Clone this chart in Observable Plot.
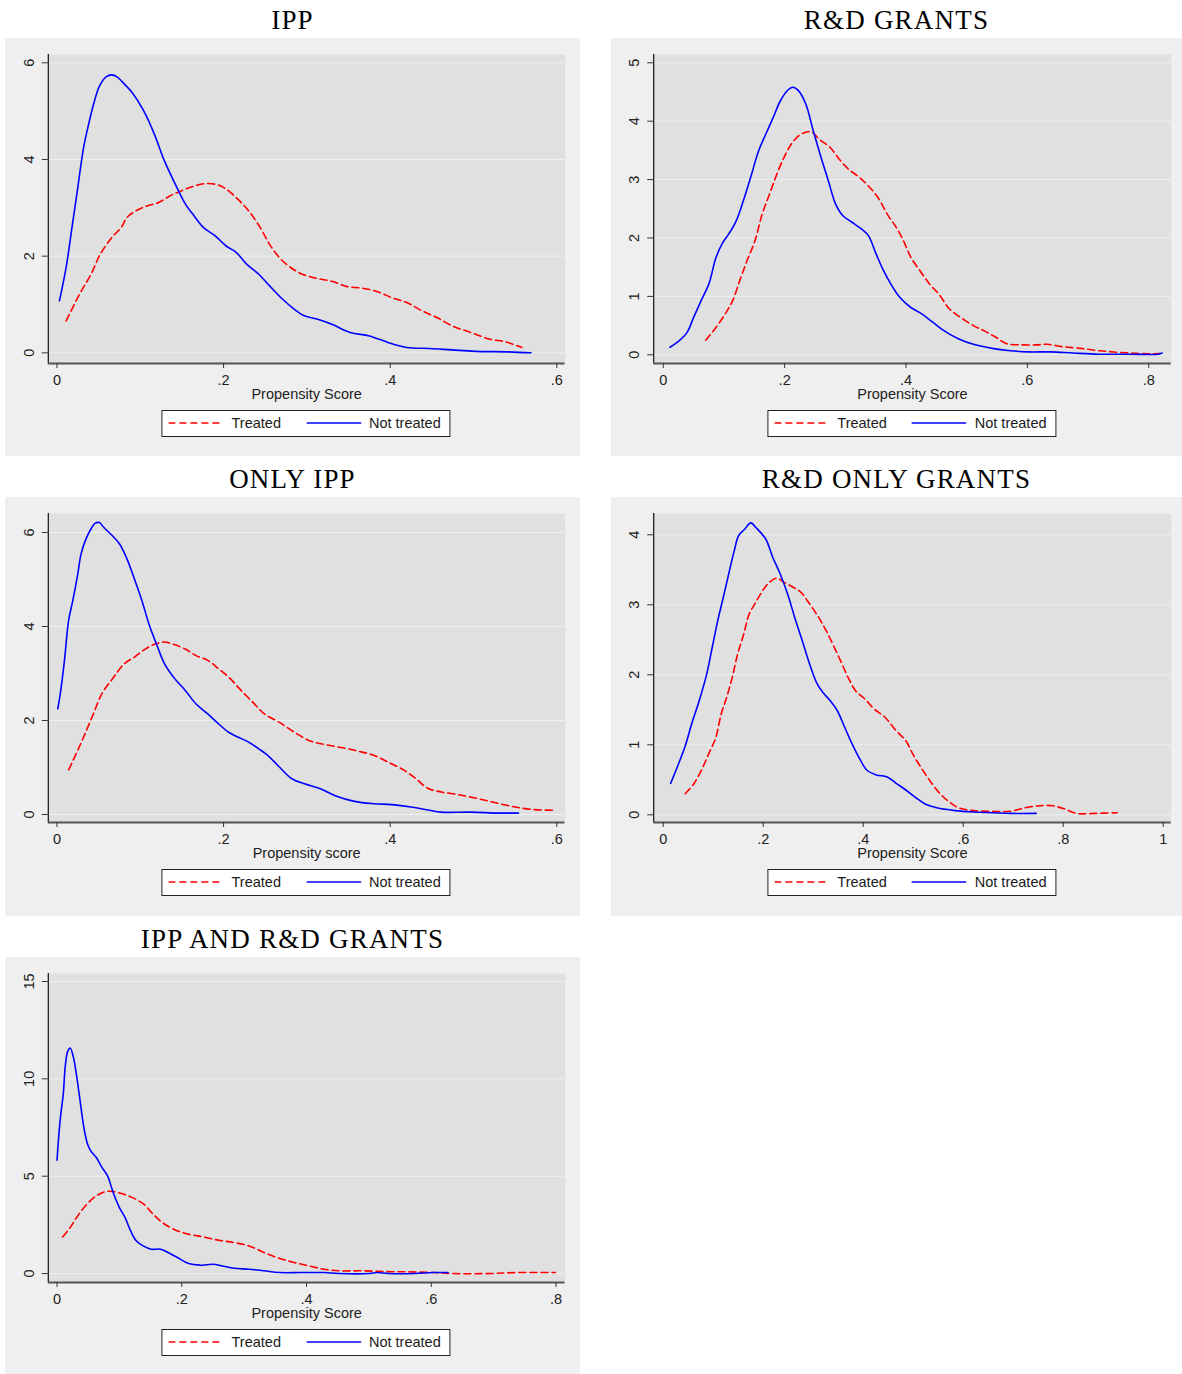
<!DOCTYPE html>
<html><head><meta charset="utf-8">
<script src="https://cdn.jsdelivr.net/npm/d3@7"></script>
<script src="https://cdn.jsdelivr.net/npm/@observablehq/plot@0.6"></script>
<style>
body{margin:0;background:#fff;width:1182px;height:1374px;position:relative;overflow:hidden;font-family:"Liberation Sans",Arial,sans-serif;}
.title{position:absolute;height:38px;line-height:38px;text-align:center;font-family:"Liberation Serif","Times New Roman",serif;font-size:27px;letter-spacing:1.2px;color:#000;white-space:nowrap;}
.box{position:absolute;background:#efefef;}
.box svg{position:absolute;left:0;top:0;}
.legend{position:absolute;display:flex;align-items:center;background:#fff;border:1px solid #222;height:25px;padding:0 9px 0 6px;font-size:14.5px;color:#1a1a1a;transform:translateX(-50%);white-space:nowrap;}
.legend svg{position:static;display:block;}
</style></head><body>
<script>
// ---- data: [propensity score, density] ----
const ippTreated = [[0.011,0.66],[0.027,1.21],[0.041,1.63],[0.052,2.04],[0.066,2.39],[0.077,2.59],[0.084,2.80],[0.095,2.94],[0.108,3.04],[0.122,3.11],[0.136,3.25],[0.149,3.35],[0.163,3.44],[0.178,3.50],[0.192,3.48],[0.203,3.39],[0.217,3.18],[0.230,2.94],[0.244,2.59],[0.255,2.25],[0.267,1.97],[0.280,1.77],[0.294,1.63],[0.312,1.54],[0.330,1.48],[0.348,1.37],[0.366,1.34],[0.384,1.27],[0.402,1.14],[0.420,1.04],[0.438,0.87],[0.456,0.73],[0.474,0.56],[0.497,0.42],[0.520,0.28],[0.538,0.23],[0.558,0.11]];
const ippNotTreated = [[0.003,1.08],[0.011,1.77],[0.018,2.59],[0.025,3.42],[0.032,4.25],[0.038,4.73],[0.045,5.21],[0.051,5.52],[0.059,5.71],[0.066,5.75],[0.072,5.71],[0.081,5.56],[0.090,5.39],[0.104,5.01],[0.117,4.52],[0.129,3.97],[0.142,3.49],[0.154,3.08],[0.163,2.87],[0.176,2.59],[0.190,2.42],[0.203,2.21],[0.215,2.08],[0.228,1.83],[0.242,1.63],[0.255,1.39],[0.269,1.14],[0.285,0.90],[0.296,0.77],[0.312,0.70],[0.330,0.59],[0.352,0.42],[0.375,0.35],[0.398,0.21],[0.420,0.11],[0.447,0.09],[0.474,0.06],[0.502,0.03],[0.542,0.02],[0.569,0.0]];

const grantsTreated = [[0.070,0.25],[0.087,0.47],[0.102,0.70],[0.114,0.92],[0.126,1.27],[0.138,1.61],[0.151,1.95],[0.163,2.41],[0.175,2.75],[0.187,3.09],[0.199,3.38],[0.211,3.61],[0.223,3.75],[0.235,3.81],[0.244,3.82],[0.257,3.69],[0.275,3.55],[0.290,3.35],[0.305,3.18],[0.323,3.04],[0.338,2.89],[0.354,2.69],[0.369,2.41],[0.384,2.18],[0.396,1.95],[0.408,1.67],[0.423,1.44],[0.439,1.21],[0.454,1.04],[0.472,0.78],[0.490,0.64],[0.511,0.50],[0.529,0.41],[0.548,0.30],[0.566,0.19],[0.590,0.17],[0.614,0.17],[0.633,0.18],[0.657,0.14],[0.687,0.11],[0.718,0.07],[0.754,0.04],[0.790,0.02],[0.818,0.02]];
const grantsNotTreated = [[0.011,0.13],[0.026,0.24],[0.039,0.38],[0.050,0.64],[0.062,0.92],[0.075,1.21],[0.087,1.67],[0.098,1.92],[0.108,2.07],[0.120,2.29],[0.132,2.64],[0.144,3.04],[0.157,3.49],[0.169,3.78],[0.181,4.06],[0.193,4.35],[0.205,4.53],[0.213,4.58],[0.223,4.52],[0.235,4.29],[0.247,3.84],[0.260,3.38],[0.272,2.98],[0.284,2.58],[0.296,2.38],[0.311,2.27],[0.327,2.15],[0.338,2.04],[0.351,1.72],[0.363,1.44],[0.375,1.21],[0.390,0.98],[0.408,0.81],[0.426,0.70],[0.445,0.55],[0.463,0.41],[0.487,0.27],[0.511,0.18],[0.542,0.11],[0.572,0.07],[0.602,0.05],[0.639,0.05],[0.675,0.03],[0.718,0.01],[0.766,0.01],[0.815,0.01],[0.822,0.03]];

const onlyIppTreated = [[0.014,0.95],[0.023,1.29],[0.032,1.65],[0.043,2.11],[0.054,2.57],[0.068,2.92],[0.081,3.21],[0.093,3.35],[0.106,3.52],[0.117,3.62],[0.129,3.67],[0.140,3.62],[0.154,3.52],[0.167,3.38],[0.181,3.28],[0.194,3.10],[0.208,2.89],[0.221,2.64],[0.235,2.39],[0.249,2.14],[0.267,1.96],[0.285,1.75],[0.303,1.57],[0.321,1.49],[0.343,1.42],[0.361,1.35],[0.380,1.26],[0.398,1.11],[0.416,0.95],[0.431,0.76],[0.445,0.56],[0.461,0.48],[0.479,0.43],[0.502,0.35],[0.524,0.26],[0.547,0.17],[0.569,0.11],[0.596,0.09]];
const onlyIppNotTreated = [[0.001,2.25],[0.004,2.57],[0.009,3.28],[0.014,4.13],[0.019,4.55],[0.025,5.12],[0.029,5.55],[0.035,5.87],[0.041,6.08],[0.046,6.20],[0.051,6.21],[0.056,6.11],[0.066,5.94],[0.075,5.76],[0.084,5.44],[0.093,5.01],[0.102,4.55],[0.111,4.02],[0.120,3.60],[0.129,3.21],[0.140,2.92],[0.154,2.64],[0.167,2.35],[0.181,2.14],[0.192,1.96],[0.206,1.75],[0.217,1.65],[0.230,1.54],[0.242,1.40],[0.253,1.26],[0.267,1.01],[0.282,0.76],[0.298,0.65],[0.316,0.55],[0.334,0.40],[0.357,0.28],[0.380,0.23],[0.402,0.21],[0.425,0.16],[0.447,0.09],[0.461,0.05],[0.497,0.05],[0.529,0.03],[0.554,0.03]];

const onlyGrantsTreated = [[0.044,0.30],[0.061,0.44],[0.076,0.63],[0.091,0.87],[0.105,1.10],[0.116,1.44],[0.127,1.68],[0.138,1.96],[0.149,2.30],[0.161,2.58],[0.172,2.87],[0.183,3.01],[0.197,3.18],[0.212,3.32],[0.227,3.38],[0.242,3.32],[0.260,3.25],[0.275,3.18],[0.293,3.01],[0.311,2.82],[0.326,2.63],[0.341,2.41],[0.356,2.18],[0.370,1.96],[0.385,1.77],[0.404,1.65],[0.422,1.51],[0.444,1.39],[0.466,1.20],[0.485,1.06],[0.499,0.87],[0.518,0.65],[0.536,0.46],[0.554,0.30],[0.573,0.18],[0.591,0.10],[0.621,0.06],[0.658,0.05],[0.694,0.05],[0.724,0.10],[0.753,0.13],[0.779,0.13],[0.804,0.08],[0.826,0.02],[0.864,0.02],[0.908,0.03]];
const onlyGrantsNotTreated = [[0.015,0.45],[0.028,0.68],[0.043,0.96],[0.057,1.30],[0.072,1.63],[0.087,2.01],[0.098,2.39],[0.109,2.77],[0.120,3.10],[0.131,3.44],[0.142,3.77],[0.151,3.99],[0.163,4.08],[0.175,4.17],[0.186,4.10],[0.205,3.94],[0.219,3.68],[0.234,3.44],[0.249,3.15],[0.263,2.82],[0.278,2.49],[0.293,2.15],[0.308,1.87],[0.319,1.75],[0.334,1.63],[0.348,1.49],[0.363,1.25],[0.378,1.01],[0.393,0.80],[0.407,0.64],[0.426,0.57],[0.448,0.54],[0.466,0.45],[0.488,0.34],[0.510,0.22],[0.525,0.15],[0.547,0.10],[0.584,0.06],[0.621,0.04],[0.658,0.03],[0.694,0.02],[0.746,0.02]];

const bothTreated = [[0.009,1.88],[0.021,2.36],[0.033,2.96],[0.048,3.56],[0.063,3.99],[0.078,4.21],[0.090,4.21],[0.106,4.08],[0.121,3.90],[0.139,3.56],[0.154,3.05],[0.169,2.62],[0.187,2.28],[0.211,2.02],[0.235,1.88],[0.259,1.71],[0.284,1.59],[0.308,1.42],[0.332,1.08],[0.356,0.79],[0.380,0.57],[0.404,0.39],[0.428,0.22],[0.452,0.14],[0.489,0.14],[0.525,0.10],[0.561,0.09],[0.603,0.05],[0.633,0.00],[0.694,0.00],[0.736,0.05],[0.799,0.05]];
const bothNotTreated = [[0.000,5.82],[0.003,7.16],[0.006,8.18],[0.010,9.21],[0.013,10.58],[0.017,11.40],[0.021,11.58],[0.026,11.15],[0.031,10.24],[0.037,8.87],[0.043,7.50],[0.049,6.64],[0.054,6.30],[0.063,5.96],[0.072,5.45],[0.081,5.02],[0.090,4.16],[0.100,3.39],[0.109,2.88],[0.118,2.19],[0.127,1.68],[0.138,1.42],[0.151,1.25],[0.166,1.25],[0.178,1.08],[0.193,0.82],[0.211,0.51],[0.229,0.43],[0.250,0.48],[0.265,0.39],[0.284,0.27],[0.308,0.22],[0.332,0.14],[0.356,0.05],[0.392,0.05],[0.428,0.05],[0.452,0.00],[0.501,0.00],[0.513,0.05],[0.531,0.00],[0.573,0.00],[0.603,0.05],[0.627,0.05]];

// ---- tick values & labels ----
const xTicks06 = [0, 0.2, 0.4, 0.6];
const xTicks08 = [0, 0.2, 0.4, 0.6, 0.8];
const xTicks10 = [0, 0.2, 0.4, 0.6, 0.8, 1];
const yTicks6 = [0, 2, 4, 6];
const yTicks5 = [0, 1, 2, 3, 4, 5];
const yTicks4 = [0, 1, 2, 3, 4];
const yTicks15 = [0, 5, 10, 15];
const titles = ["IPP", "R&D GRANTS", "ONLY IPP", "R&D ONLY GRANTS", "IPP AND R&D GRANTS"];
const xLabels = ["Propensity Score", "Propensity Score", "Propensity score", "Propensity Score", "Propensity Score"];
const seriesNames = ["Treated", "Not treated"];

// ---- layout ----
const panels = [
  {left:5,   top:38,  w:575, h:418, ml:42.8, mr:15.5, xd:[-0.0104,0.6098], yd:[-0.221,6.172], xt:xTicks06, yt:yTicks6,  tr:ippTreated,        nt:ippNotTreated},
  {left:611, top:38,  w:571, h:418, ml:42.2, mr:11.3, xd:[-0.0158,0.837],  yd:[-0.149,5.142], xt:xTicks08, yt:yTicks5,  tr:grantsTreated,     nt:grantsNotTreated},
  {left:5,   top:497, w:575, h:419, ml:42.8, mr:15.5, xd:[-0.0104,0.6098], yd:[-0.17,6.404],  xt:xTicks06, yt:yTicks6,  tr:onlyIppTreated,    nt:onlyIppNotTreated},
  {left:611, top:497, w:571, h:419, ml:42.2, mr:11.3, xd:[-0.019,1.016],   yd:[-0.11,4.304],  xt:xTicks10, yt:yTicks4,  tr:onlyGrantsTreated, nt:onlyGrantsNotTreated},
  {left:5,   top:957, w:575, h:417, ml:42.8, mr:15.5, xd:[-0.014,0.8144],  yd:[-0.46,15.41],  xt:xTicks08, yt:yTicks15, tr:bothTreated,       nt:bothNotTreated}
];

const RED = "#ff0000", BLUE = "#0000ff";
const fmtX = d => d === 0 ? "0" : d === 1 ? "1" : String(d).replace(/^0/, "");
const SVG_H = 366, MT = 16, MB = 41;

panels.forEach((p, i) => {
  const t = document.createElement("div");
  t.className = "title";
  t.style.left = p.left + "px"; t.style.top = (p.top - 37) + "px"; t.style.width = p.w + "px";
  t.textContent = titles[i];
  document.body.appendChild(t);

  const box = document.createElement("div");
  box.className = "box";
  box.style.left = p.left + "px"; box.style.top = p.top + "px";
  box.style.width = p.w + "px"; box.style.height = p.h + "px";
  document.body.appendChild(box);

  const chart = Plot.plot({
    width: p.w, height: SVG_H,
    marginLeft: p.ml, marginRight: p.mr, marginTop: MT, marginBottom: MB,
    x: {domain: p.xd, axis: null},
    y: {domain: p.yd, axis: null},
    style: {background: "transparent", fontFamily: "'Liberation Sans', Arial, sans-serif", fontSize: "14.5px", color: "#222", overflow: "visible"},
    marks: [
      Plot.frame({fill: "#e0e0e0", stroke: null}),
      Plot.gridY(p.yt, {stroke: "#edf2f2", strokeOpacity: 1, strokeWidth: 1}),
      Plot.line(p.tr, {x: d => d[0], y: d => d[1], stroke: RED, strokeWidth: 1.6, strokeDasharray: "7,4", curve: "catmull-rom"}),
      Plot.line(p.nt, {x: d => d[0], y: d => d[1], stroke: BLUE, strokeWidth: 1.6, curve: "catmull-rom"}),
      Plot.ruleX([p.xd[0]], {stroke: "#111", strokeWidth: 1.2}),
      Plot.ruleY([p.yd[0]], {stroke: "#555", strokeWidth: 1.8}),
      Plot.axisY(p.yt, {tickSize: 6, tickFormat: () => "", stroke: "#333"}),
      Plot.axisX(p.xt, {tickSize: 5, tickFormat: () => "", stroke: "#333"}),
      Plot.text(p.yt, {y: d => d, frameAnchor: "left", dx: -19, rotate: -90, text: d => String(d), textAnchor: "middle", lineAnchor: "middle", fill: "#222", fontSize: 14.5}),
      Plot.text(p.xt, {x: d => d, frameAnchor: "bottom", dy: 16.5, text: fmtX, lineAnchor: "middle", fill: "#222", fontSize: 14.5}),
      Plot.text([xLabels[i]], {frameAnchor: "bottom", dy: 31, text: d => d, lineAnchor: "middle", fill: "#222", fontSize: 14.5})
    ]
  });
  box.appendChild(chart);

  const lg = document.createElement("div");
  lg.className = "legend";
  lg.style.left = ((p.ml + (p.w - p.mr)) / 2) + "px";
  lg.style.top = "371.5px";
  const sample = (color, dash) =>
    `<svg width="55" height="4"><line x1="0" y1="2" x2="55" y2="2" stroke="${color}" stroke-width="1.6" ${dash ? 'stroke-dasharray="7,4"' : ''}/></svg>`;
  lg.innerHTML = sample(RED, true) + `<span style="margin-left:8px">${seriesNames[0]}</span>` +
    `<span style="margin-left:25px"></span>` + sample(BLUE, false) + `<span style="margin-left:8px">${seriesNames[1]}</span>`;
  box.appendChild(lg);
});
</script>
</body></html>
